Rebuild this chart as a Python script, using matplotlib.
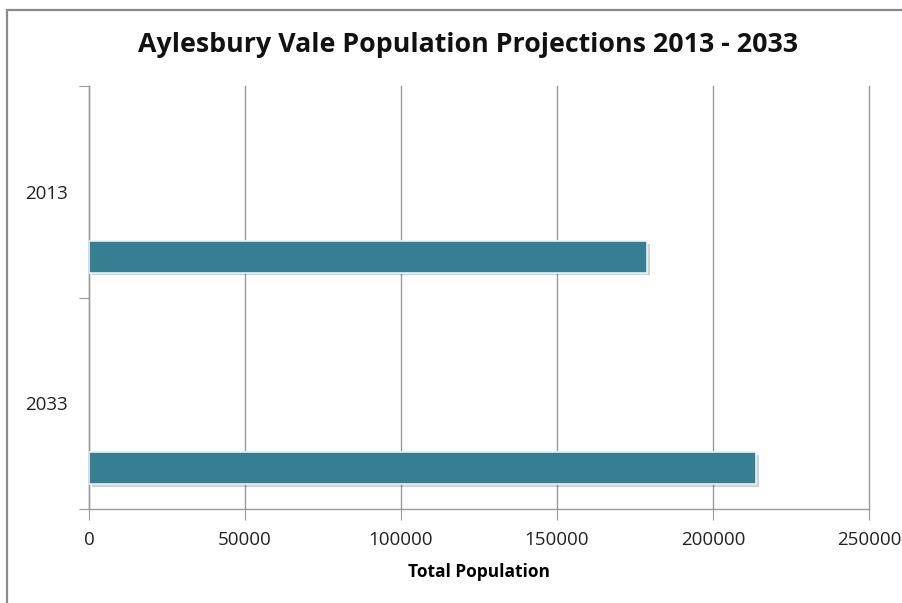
import matplotlib
matplotlib.use('Agg')
import matplotlib.pyplot as plt
from matplotlib.patches import Rectangle
import matplotlib.patheffects as pe

# chart data
years = ['2013', '2033']
population = [179000, 213800]
x_ticks = [0, 50000, 100000, 150000, 200000, 250000]

bar_color = '#367f93'
grid_color = '#9a9a9a'

plt.rcParams['font.family'] = ['Open Sans', 'DejaVu Sans']

fig = plt.figure(figsize=(9.03, 6.03), dpi=100)
ax = fig.add_axes([89 / 903, 1 - 509 / 603, (869 - 89) / 903, (509 - 86) / 603])

# outer chart frame (cut off at right and bottom like the original)
fig.patches.append(Rectangle((7 / 903, -0.2), 1.2, 1.2 - 10 / 603,
                             transform=fig.transFigure, fill=False,
                             edgecolor='#8a8a8a', linewidth=1.6))

# bars sit in the lower part of each category band
pos = list(range(len(years)))
bar_pos = [p + 0.307 for p in pos]
ax.barh(bar_pos, population, height=0.15, color=bar_color,
        edgecolor='#e8f3f5', linewidth=1.2, zorder=3,
        path_effects=[pe.SimplePatchShadow(offset=(2, -2), alpha=0.2),
                      pe.Normal()])

ax.set_ylim(1.5, -0.5)
ax.set_xlim(0, 250000)

# category boundary ticks, labels at band centres
ax.set_yticks([-0.5, 0.5, 1.5])
ax.set_yticklabels([])
ax.set_yticks(pos, minor=True)
ax.set_yticklabels(years, minor=True)
ax.tick_params(axis='y', which='major', length=7, color=grid_color, direction='out')
ax.tick_params(axis='y', which='minor', length=0, pad=15, labelsize=13.5, labelcolor='#222222')

ax.set_xticks(x_ticks)
ax.set_xticklabels([str(v) for v in x_ticks])
ax.tick_params(axis='x', length=8, color=grid_color, pad=8, labelsize=13.5, labelcolor='#222222')
ax.grid(axis='x', color=grid_color, linewidth=1, zorder=0)
for gl in ax.get_xgridlines():
    gl.set_clip_on(False)

for s in ['top', 'right']:
    ax.spines[s].set_visible(False)
for s in ['left', 'bottom']:
    ax.spines[s].set_color(grid_color)
    ax.spines[s].set_linewidth(1)

ax.set_xlabel('Total Population', fontsize=12.5, fontweight='bold', labelpad=10)
fig.text(468 / 903, 1 - 45 / 603, 'Aylesbury Vale Population Projections 2013 - 2033',
         ha='center', va='center', fontsize=19.3, fontweight='bold', color='#111111')

fig.savefig('out.png', dpi=100)
